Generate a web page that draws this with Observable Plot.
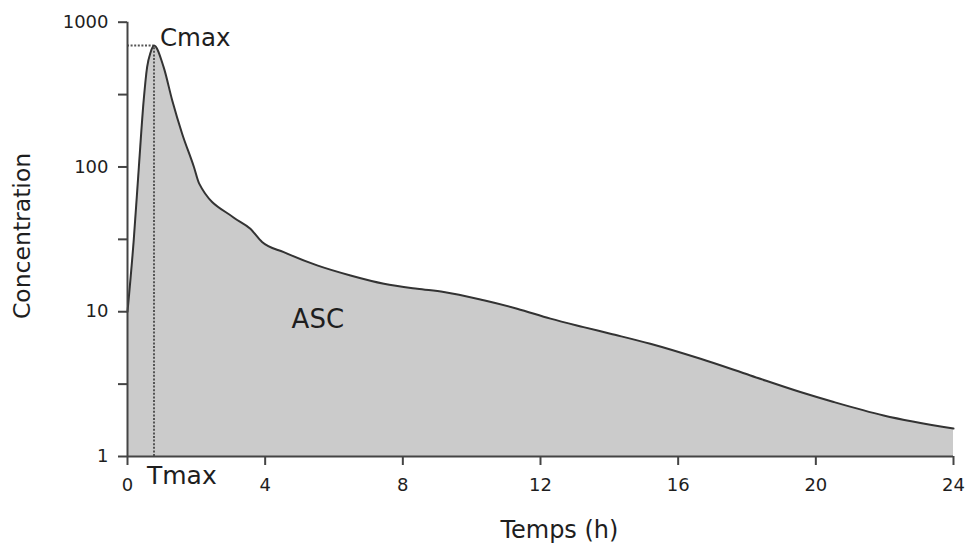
<!DOCTYPE html>
<html>
<head>
<meta charset="utf-8">
<script src="https://cdn.jsdelivr.net/npm/d3@7"></script>
<script src="https://cdn.jsdelivr.net/npm/@observablehq/plot@0.6"></script>
<style>
  html, body { margin: 0; padding: 0; background: #fff; }
  svg { display: block; }
</style>
</head>
<body>
<div id="chart"></div>
<script>
// Time (h) and concentration
const hours = [0, 0.18, 0.33, 0.47, 0.57, 0.67, 0.77,
  1.05, 1.30, 1.59, 1.93, 2.08, 3.08, 3.57, 3.91, 4.54,
  5.51, 6.48, 7.45, 8.42, 9.19, 10.35, 11.32, 12.29, 13.25, 14.03, 15.19, 16.65,
  18.10, 19.55, 20.52, 21.97, 24];
const concentration = [10, 31, 100, 288, 489, 618, 690,
  489, 288, 169, 100, 77, 44.8, 37.4, 30.3, 25.8,
  20.9, 17.8, 15.6, 14.4, 13.7, 12.0, 10.5, 8.96, 7.83, 7.05, 6.01, 4.73,
  3.63, 2.79, 2.38, 1.92, 1.56];

const tmax = 0.77;
const cmax = 690;

const xTicks = [0, 4, 8, 12, 16, 20, 24];
const yTicks = [1, 3.162, 10, 31.62, 100, 316.2, 1000];
const yTickLabels = [1, 10, 100, 1000];

const labels = {x: "Temps (h)", y: "Concentration", area: "ASC", cmax: "Cmax", tmax: "Tmax"};
const areaLabelPos = {t: 5.53, c: 8.85};
const xLabelPos = 12.55;

const data = hours.map((t, i) => ({t, c: concentration[i]}));

const font = "DejaVu Sans";
const axisColor = "#444";
const textColor = "#1e1e1e";

const chart = Plot.plot({
  width: 965,
  height: 544,
  marginLeft: 127,
  marginRight: 12,
  marginTop: 21.7,
  marginBottom: 88,
  style: {fontFamily: font, color: textColor, background: "#fff"},
  x: {domain: [0, 24]},
  y: {type: "log", domain: [1, 1000]},
  marks: [
    Plot.areaY(data, {x: "t", y1: 1, y2: "c", curve: "monotone-x", fill: "#cbcbcb"}),
    Plot.ruleX([tmax], {y1: 1, y2: cmax, stroke: "#555", strokeWidth: 2, strokeDasharray: "2,1.6"}),
    Plot.ruleY([cmax], {x1: 0, x2: tmax, stroke: "#555", strokeWidth: 2, strokeDasharray: "2,1.6"}),
    Plot.lineY(data, {x: "t", y: "c", curve: "monotone-x", stroke: "#333", strokeWidth: 2}),
    Plot.ruleX([0], {stroke: axisColor, strokeWidth: 2}),
    Plot.ruleY([1], {stroke: axisColor, strokeWidth: 2}),
    Plot.axisX({ticks: xTicks, tickSize: 9, tickPadding: 13, fontSize: 18, label: null,
      stroke: axisColor, strokeWidth: 2, tickFormat: d => String(d)}),
    Plot.axisY({ticks: yTicks, tickSize: 9, tickPadding: 10, fontSize: 18, label: null,
      stroke: axisColor, strokeWidth: 2,
      tickFormat: d => yTickLabels.some(v => Math.abs(v - d) < 1e-6) ? String(d) : ""}),
    Plot.text([labels.cmax], {x: tmax, y: cmax, text: d => d, textAnchor: "start", dx: 6, dy: -7,
      fontSize: 24.5, fill: textColor}),
    Plot.text([labels.tmax], {x: tmax, frameAnchor: "bottom", text: d => d, textAnchor: "start",
      lineAnchor: "middle", dx: -7, dy: 19, fontSize: 25, fill: textColor}),
    Plot.text([labels.area], {x: areaLabelPos.t, y: areaLabelPos.c, text: d => d, fontSize: 26, fill: textColor}),
    Plot.text([labels.x], {x: xLabelPos, frameAnchor: "bottom", text: d => d, lineAnchor: "middle",
      dy: 74, fontSize: 24, fill: textColor}),
    Plot.text([labels.y], {frameAnchor: "left", text: d => d, rotate: -90, textAnchor: "middle",
      lineAnchor: "middle", dx: -105, dy: -3.4, fontSize: 23.5, fill: textColor})
  ]
});
document.getElementById("chart").appendChild(chart);
</script>
</body>
</html>
